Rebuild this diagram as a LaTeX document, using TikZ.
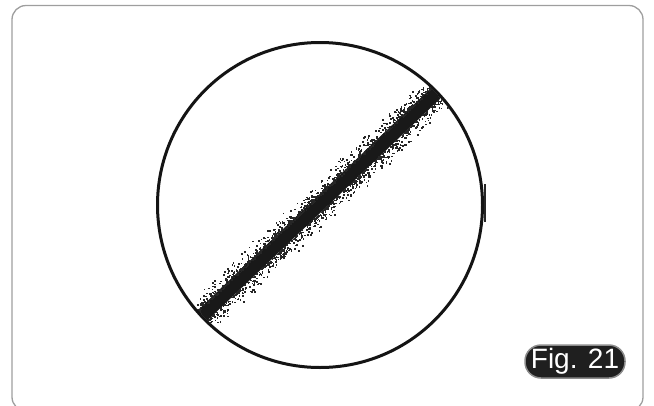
\documentclass[tikz,border=0pt]{standalone}
\usepackage{fontspec}
\setmainfont{Liberation Sans}
\begin{document}
\begin{tikzpicture}[x=1pt, y=-1pt,
  frame/.style={draw=black!38, line width=1.3pt, rounded corners=14pt},
  lens/.style={draw=black!92, line width=3pt},
  band/.style={draw=black!90, line width=14pt},
  figtag/.style={fill=black!88, draw=black!45, line width=1.5pt,
    rounded corners=16pt, text=white, inner sep=0pt,
    font=\fontsize{28}{28}\selectfont, minimum width=100pt, minimum height=33pt}
]
\useasboundingbox (0,0) rectangle (654,405);
\draw[frame] (12,5.5) rectangle (643,411);

\coordinate (lensc) at (320,205);
\coordinate (bandA) at (179.6,337.3);
\coordinate (bandB) at (460.4,69.7);

% smeared stripe across the field
\begin{scope}
  \clip (lensc) circle [radius=161];
  \draw[band] (bandA) -- (bandB);
  \pgfmathsetseed{2021}
  \foreach \k in {1,...,1700}{
    \pgfmathsetmacro{\t}{rnd}
    \pgfmathsetmacro{\s}{rnd<0.55 ? -1 : 1}
    \pgfmathsetmacro{\d}{\s*(6+14*rnd*rnd)}
    \pgfmathsetmacro{\px}{179.6+280.8*\t+0.690*\d}
    \pgfmathsetmacro{\py}{337.3-267.6*\t+0.724*\d}
    \fill[black!85] (\px,\py) rectangle +(1.6,1.6);
  }
\end{scope}

\draw[lens] (lensc) circle [radius=162.5];
\draw[line width=2pt, black!85] (484.6,184) -- (484.6,222);

\node[figtag] (figlabel) at (575,361.5) {Fig. 21};
\end{tikzpicture}
\end{document}
